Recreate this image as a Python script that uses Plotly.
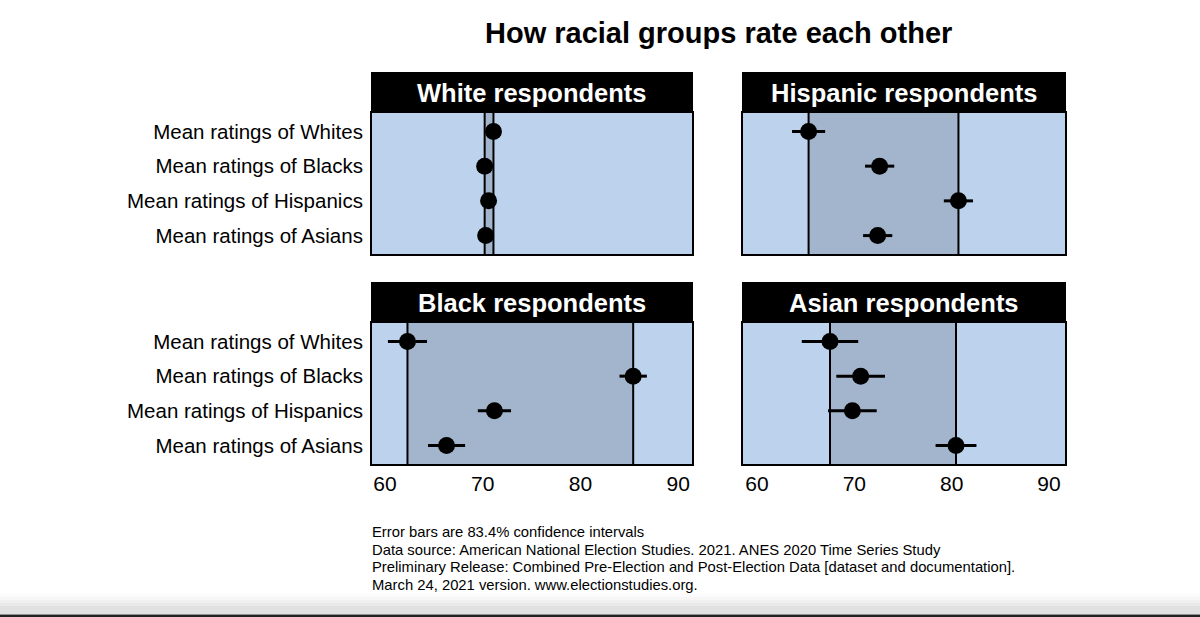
import plotly.graph_objects as go

W, H = 1200, 617

categories = ["Mean ratings of Whites", "Mean ratings of Blacks",
              "Mean ratings of Hispanics", "Mean ratings of Asians"]
panel_titles = ["White respondents", "Hispanic respondents",
                "Black respondents", "Asian respondents"]

white_means = [71.1, 70.2, 70.6, 70.3]
white_err = [0.6, 0.6, 0.6, 0.6]
hispanic_means = [65.3, 72.6, 80.7, 72.4]
hispanic_err = [1.7, 1.5, 1.5, 1.5]
black_means = [62.3, 85.4, 71.2, 66.3]
black_err = [2.0, 1.4, 1.7, 1.9]
asian_means = [67.5, 70.65, 69.8, 80.45]
asian_err = [2.9, 2.5, 2.5, 2.1]

x_ticks = [60, 70, 80, 90]

footnote_lines = [
    "Error bars are 83.4% confidence intervals",
    "Data source: American National Election Studies. 2021. ANES 2020 Time Series Study",
    "Preliminary Release: Combined Pre-Election and Post-Election Data [dataset and documentation].",
    "March 24, 2021 version. www.electionstudies.org.",
]

LIGHT = "#BDD2EC"
DARK = "#A3B5CC"
FONT = "Liberation Sans, Arial, sans-serif"

def px_x(p):
    return p / W

def px_y(p):
    return 1 - p / H

# panel geometry in pixels: (left, right, plot_top, plot_bottom, header_top)
panels = [
    (372, 692, 113, 254, 72),
    (743, 1065, 113, 254, 72),
    (372, 692, 323, 464, 282),
    (743, 1065, 323, 464, 282),
]
xranges = [[58.67, 91.42], [58.56, 91.65], [58.67, 91.42], [58.56, 91.65]]
data = [(white_means, white_err), (hispanic_means, hispanic_err),
        (black_means, black_err), (asian_means, asian_err)]

fig = go.Figure()
shapes = []
annotations = []

for i, ((l, r, t, b, ht), (means, errs)) in enumerate(zip(panels, data)):
    n = i + 1
    xa = "x" if n == 1 else f"x{n}"
    ya = "y" if n == 1 else f"y{n}"
    fig.add_trace(go.Scatter(
        x=means, y=categories, mode="markers",
        marker=dict(color="black", size=17),
        error_x=dict(type="data", array=errs, color="black", thickness=3, width=0),
        xaxis=xa, yaxis=ya, showlegend=False, cliponaxis=False, hoverinfo="skip",
    ))
    xkey = "xaxis" if n == 1 else f"xaxis{n}"
    ykey = "yaxis" if n == 1 else f"yaxis{n}"
    fig.update_layout(**{
        xkey: dict(domain=[px_x(l), px_x(r)], range=xranges[i], anchor=ya,
                   tickvals=x_ticks, showgrid=False, zeroline=False,
                   showticklabels=(i >= 2), ticks="",
                   tickfont=dict(size=21, color="black", family=FONT),
                   showline=True, linecolor="black", linewidth=2, mirror=True,
                   fixedrange=True),
        ykey: dict(domain=[px_y(b), px_y(t)], anchor=xa,
                   categoryorder="array", categoryarray=categories,
                   range=[3.53, -0.53], showgrid=False, zeroline=False,
                   showticklabels=(i % 2 == 0), ticks="", ticklabelstandoff=3,
                   tickfont=dict(size=20.5, color="black", family=FONT),
                   showline=True, linecolor="black", linewidth=2, mirror=True,
                   fixedrange=True),
    })
    lo, hi = min(means), max(means)
    shapes.append(dict(type="rect", xref=xa, yref=f"{ya} domain",
                       x0=lo, x1=hi, y0=0, y1=1, fillcolor=DARK,
                       line=dict(width=0), layer="below"))
    for v in (lo, hi):
        shapes.append(dict(type="line", xref=xa, yref=f"{ya} domain",
                           x0=v, x1=v, y0=0, y1=1,
                           line=dict(color="black", width=2), layer="below"))
    # header
    shapes.append(dict(type="rect", xref="paper", yref="paper",
                       x0=px_x(l - 1), x1=px_x(r + 1), y0=px_y(t), y1=px_y(ht),
                       fillcolor="black", line=dict(width=0)))
    annotations.append(dict(text=f"<b>{panel_titles[i]}</b>", xref="paper", yref="paper",
                            x=(px_x(l) + px_x(r)) / 2, y=(px_y(t) + px_y(ht)) / 2,
                            showarrow=False, xanchor="center", yanchor="middle",
                            font=dict(size=25.5, color="white", family=FONT)))

annotations.append(dict(text="<b>How racial groups rate each other</b>", xref="paper", yref="paper",
                        x=px_x(718), y=px_y(33), showarrow=False,
                        xanchor="center", yanchor="middle",
                        font=dict(size=29, color="black", family=FONT)))

for k, line in enumerate(footnote_lines):
    annotations.append(dict(text=line, xref="paper", yref="paper",
                            x=px_x(370), y=px_y(532 + k * 17.5), showarrow=False,
                            align="left", xanchor="left", yanchor="middle",
                            font=dict(size=14.8, color="black", family=FONT)))

# bottom screenshot edge shading
for k, op in enumerate([0.03, 0.04, 0.05, 0.06, 0.07]):
    shapes.append(dict(type="rect", xref="paper", yref="paper",
                       x0=0, x1=1, y0=px_y(614), y1=px_y(594 + k * 3),
                       fillcolor="gray", opacity=op, line=dict(width=0)))
shapes.append(dict(type="rect", xref="paper", yref="paper",
                   x0=0, x1=1, y0=0, y1=px_y(614.5),
                   fillcolor="#222222", line=dict(width=0)))

fig.update_layout(width=W, height=H, margin=dict(l=0, r=0, t=0, b=0),
                  paper_bgcolor="white", plot_bgcolor=LIGHT,
                  shapes=shapes, annotations=annotations, hovermode=False,
                  font=dict(family=FONT, color="black"))

fig.write_html("out.html", config={"displayModeBar": False},
               post_script="document.body.style.margin='0';document.body.style.overflow='hidden';")
